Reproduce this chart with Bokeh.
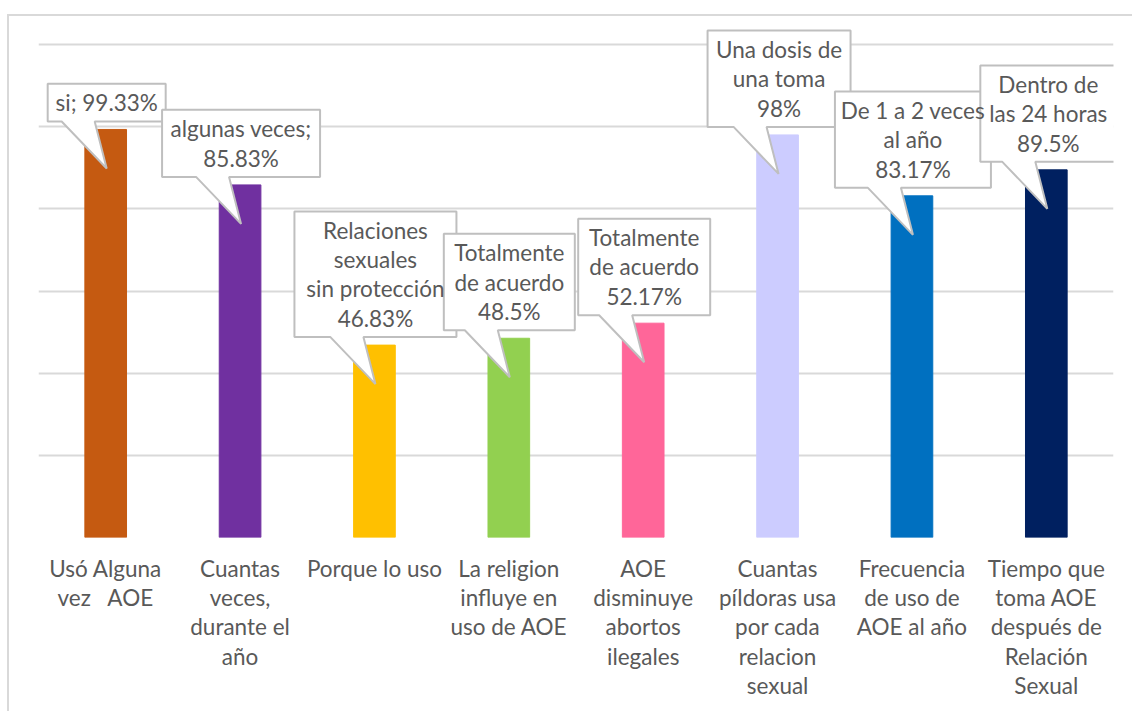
from bokeh.plotting import figure
from bokeh.models import FactorRange, FixedTicker, ColumnDataSource
from bokeh.core.properties import value
from bokeh.embed import file_html
from bokeh.resources import INLINE

# ---------------- data ----------------
category_labels = [
    "Usó Alguna\nvez\u00a0\u00a0 AOE",
    "Cuantas\nveces,\ndurante el\naño",
    "Porque lo uso",
    "La religion\ninfluye en\nuso de AOE",
    "AOE\ndisminuye\nabortos\nilegales",
    "Cuantas\npíldoras usa\npor cada\nrelacion\nsexual",
    "Frecuencia\nde uso de\nAOE al año",
    "Tiempo que\ntoma AOE\ndespués de\nRelación\nSexual",
]
values = [99.33, 85.83, 46.83, 48.5, 52.17, 98, 83.17, 89.5]
callout_texts = [
    "si; 99.33%",
    "algunas veces;\n85.83%",
    "Relaciones\nsexuales\nsin protección\n46.83%",
    "Totalmente\nde acuerdo\n48.5%",
    "Totalmente\nde acuerdo\n52.17%",
    "Una dosis de\nuna toma\n98%",
    "De 1 a 2 veces\nal año\n83.17%",
    "Dentro de\nlas 24 horas\n89.5%",
]
bar_colors = ["#C55A11", "#7030A0", "#FFC000", "#92D050",
              "#FF6699", "#CCCCFF", "#0070C0", "#002060"]
grid_ticks = [0, 20, 40, 60, 80, 100, 120]

# ---------------- layout / style ----------------
OFF_X, OFF_Y = 7, 14           # outer chart border position on page
W, H = 1132 - OFF_X, 711 - OFF_Y
FRAME_LEFT_PAGE, FRAME_RIGHT_PAGE = 38, 1113
FRAME_BOTTOM_PAGE = 537
B_LEFT = FRAME_LEFT_PAGE - OFF_X - 2
B_RIGHT = W - (FRAME_RIGHT_PAGE - OFF_X - 2)
B_TOP = 2
B_BOTTOM = H - (FRAME_BOTTOM_PAGE - OFF_Y - 2)
FONT = "Lato"
TXT = "#595959"
FONT_SIZE = "22.5px"
LINE_H = 1.09

frame_w = W - B_LEFT - B_RIGHT
frame_h = H - B_TOP - B_BOTTOM
PX_PER_PCT = 4.108
Y_END = frame_h / PX_PER_PCT
px_x = frame_w / len(category_labels)
px_y = PX_PER_PCT

# callout box half-widths (left, right) in px, relative to bar centre
box_half = [(58, 60), (78, 80), (80, 82), (65, 66), (65, 67), (70, 73), (77, 79), (66, 70)]
GAP = 8
TAIL_L, TAIL_R = -44, -11
TIP_DX, TIP_DY = 1, 39
LINE_PX = 29.3
PAD_PX = 8.5

p = figure(width=W, height=H, x_range=FactorRange(factors=category_labels, range_padding=0),
           y_range=(0, Y_END), output_backend="svg", toolbar_location=None,
           min_border_left=B_LEFT, min_border_right=B_RIGHT,
           min_border_top=B_TOP, min_border_bottom=B_BOTTOM)
p.margin = (OFF_Y, 0, 0, OFF_X)
p.styles = {"border-left": "2px solid #D9D9D9", "border-top": "2px solid #D9D9D9"}
p.outline_line_color = None
p.background_fill_color = "white"
p.border_fill_color = "white"

p.yaxis.visible = False
p.ygrid.ticker = FixedTicker(ticks=grid_ticks)
p.ygrid.grid_line_color = "#D9D9D9"
p.ygrid.grid_line_width = 2
p.xgrid.grid_line_color = None

ax = p.xaxis[0]
ax.axis_line_color = None
ax.major_tick_line_color = None
ax.minor_tick_line_color = None
ax.major_label_text_font = FONT
ax.major_label_text_font_size = FONT_SIZE
ax.major_label_text_color = TXT
ax.major_label_text_line_height = LINE_H
ax.major_label_standoff = 11

src = ColumnDataSource(dict(x=category_labels, top=values, color=bar_colors))
p.vbar(x="x", top="top", width=0.31, color="color", source=src)

# callouts
xs, ys, tx, ty = [], [], [], []
for i, (v, txt) in enumerate(zip(values, callout_texts)):
    cx = i + 0.5
    n = txt.count("\n") + 1
    hl, hr = box_half[i]
    bottom = v + GAP / px_y
    top = bottom + (LINE_PX * n + PAD_PX) / px_y
    L = cx - hl / px_x
    R = cx + hr / px_x
    xs.append([L, cx + TAIL_L / px_x, cx + TIP_DX / px_x, cx + TAIL_R / px_x, R, R, L])
    ys.append([bottom, bottom, v - TIP_DY / px_y, bottom, bottom, top, top])
    tx.append((L + R) / 2)
    ty.append((bottom + top) / 2)

p.patches(xs, ys, fill_color="white", line_color="#BFBFBF", line_width=2)
p.text(x=tx, y=ty, text=callout_texts, text_font=value(FONT), text_font_size=FONT_SIZE,
       text_color=TXT, text_align="center", text_baseline="middle", text_line_height=LINE_H)

open("out.html", "w").write(file_html(p, INLINE))
